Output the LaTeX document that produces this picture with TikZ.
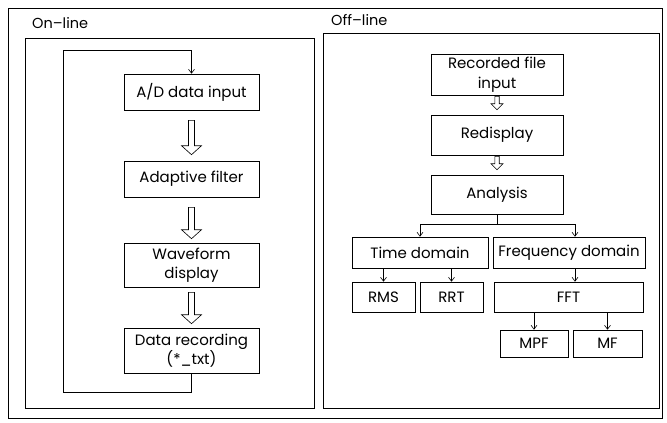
\documentclass[tikz,border=0pt]{standalone}
\usepackage{fontspec}
\setmainfont{Poppins}
\usetikzlibrary{arrows.meta,calc}

\tikzset{
  box/.style={draw, line width=0.6pt, inner sep=0pt, align=center, font=\fontsize{15}{19.5}\selectfont},
  frame/.style={draw, line width=0.7pt},
  tip/.style={line width=0.6pt, -{Straight Barb[length=4pt,width=6pt]}},
  hollow/.style={draw, line width=0.6pt, fill=white, line join=miter}
}

% hollow block arrow: from, to, gap top, gap bottom, half shaft, half head, head length
\newcommand{\hollowarrow}[7]{%
  \draw[hollow] let \p1=($(#1.south)+(0,#3)$), \p2=($(#2.north)+(0,-#4)$) in
    (\x1-#5pt,\y1) -- (\x1-#5pt,\y2+#7pt) -- (\x1-#6pt,\y2+#7pt) -- (\x1,\y2)
    -- (\x1+#6pt,\y2+#7pt) -- (\x1+#5pt,\y2+#7pt) -- (\x1+#5pt,\y1) -- cycle;
}

\begin{document}
\begin{tikzpicture}[x=1pt,y=-1pt]
	\useasboundingbox (0,0) rectangle (667,423);

	% frames
	\draw[frame] (8,8) rectangle (662,418);
	\draw[frame] (25,38) rectangle (314,408);
	\draw[frame] (323,33) rectangle (659,408);
	\node[anchor=west, font=\fontsize{14.5}{16}\selectfont, inner sep=0pt] (onlbl) at (32,23) {On--line};
	\node[anchor=west, font=\fontsize{14.5}{16}\selectfont, inner sep=0pt] (offlbl) at (331,20) {Off--line};

	% on-line chain
	\node[box, minimum width=135, minimum height=36] (adin) at (191.5,92) {A/D data input};
	\node[box, minimum width=135, minimum height=36] (adapt) at (191.5,179) {Adaptive filter};
	\node[box, minimum width=135, minimum height=44] (wave) at (191.5,265) {Waveform\\display};
	\node[box, minimum width=135, minimum height=45] (rec) at (191.5,350.5) {Data recording\\(*\_txt)};

	\hollowarrow{adin}{adapt}{10}{6}{3}{10}{9}
	\hollowarrow{adapt}{wave}{10}{4}{3}{10}{9}
	\hollowarrow{wave}{rec}{5}{4}{3}{10}{9}

	\coordinate (loopB) at (63,392);
	\coordinate (loopT) at (63,50);
	\draw[tip] (rec.south) |- (loopB) -- (loopT) -| (adin.north);

	% off-line tree
	\node[box, minimum width=132, minimum height=41] (recin) at (497,74.5) {Recorded file\\input};
	\node[box, minimum width=132, minimum height=40] (redisp) at (497,135) {Redisplay};
	\node[box, minimum width=132, minimum height=39] (anal) at (497,194.5) {Analysis};

	\hollowarrow{recin}{redisp}{1}{5}{2.2}{6}{6}
	\hollowarrow{redisp}{anal}{1}{5}{2.2}{6}{6}

	\node[box, minimum width=136, minimum height=31] (time) at (420,252.5) {Time domain};
	\node[box, minimum width=152, minimum height=31] (freq) at (569,252.5) {Frequency domain};
	\node[box, minimum width=63, minimum height=30] (rms) at (383.5,297) {RMS};
	\node[box, minimum width=63, minimum height=30] (rrt) at (451.5,297) {RRT};
	\node[box, minimum width=149, minimum height=30] (fft) at (568.5,297) {FFT};
	\node[box, minimum width=68, minimum height=27] (mpf) at (534,343.5) {MPF};
	\node[box, minimum width=69, minimum height=27] (mf) at (607.5,343.5) {MF};

	\draw[line width=0.6pt] (anal.south) -- ++(0,10) coordinate (split);
	\draw[tip] (split) -| (time.north);
	\draw[tip] (split) -| ($(freq.north)+(6,0)$);
	\draw[tip] (rms.north |- time.south) -- (rms.north);
	\draw[tip] (rrt.north |- time.south) -- (rrt.north);
	\draw[tip] ($(freq.south)+(6,0)$) -- ($(fft.north)+(6.5,0)$);
	\draw[tip] (mpf.north |- fft.south) -- (mpf.north);
	\draw[tip] (mf.north |- fft.south) -- (mf.north);
\end{tikzpicture}
\end{document}
